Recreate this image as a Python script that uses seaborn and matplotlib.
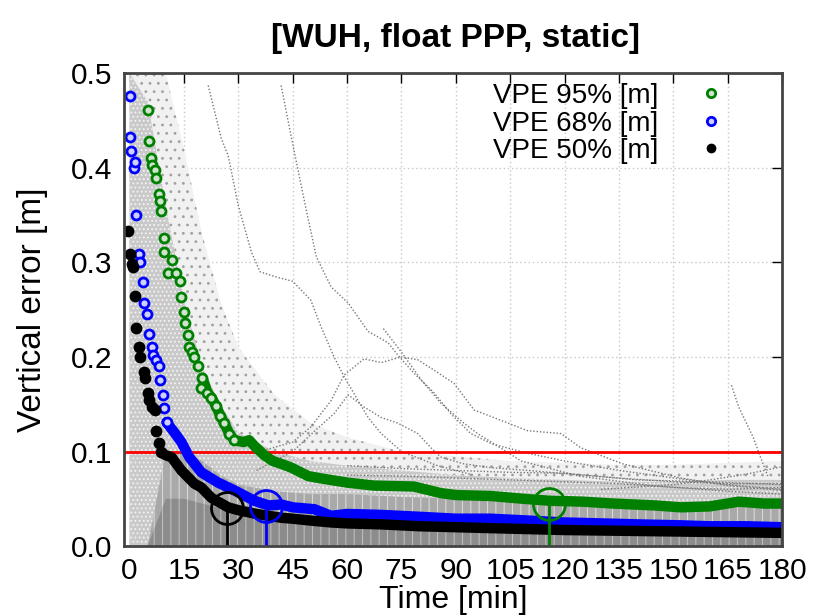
import matplotlib
matplotlib.use("Agg")
import matplotlib.pyplot as plt
from matplotlib.lines import Line2D
import seaborn as sns
import pandas as pd

# --- VPE percentile curves (time in minutes, error in metres) ---
vpe95_t = [5.0, 5.5, 5.8, 6.3, 6.9, 7.2, 8.0, 8.3, 8.8, 9.4, 9.6, 10.7, 11.8, 12.9, 13.8,
           14.3, 14.9, 15.4, 16.0, 16.5, 17.3, 17.9, 19.0, 19.8, 20.1, 21.5, 22.6, 23.9,
           25.0, 26.1, 27.5, 28.9, 31.4, 33.0, 34.4, 37.2, 39.5, 41.8, 44.6, 49.3, 53.7,
           60.3, 67.4, 78.4, 85.9, 90.0, 99.6, 108.7, 115.8, 125.0, 133.5, 145.0, 152.0,
           160.0, 168.0, 175.0, 180.0]
vpe95_v = [0.461, 0.428, 0.410, 0.403, 0.398, 0.389, 0.372, 0.365, 0.354, 0.326, 0.311,
           0.289, 0.302, 0.289, 0.280, 0.263, 0.247, 0.236, 0.223, 0.210, 0.205, 0.200,
           0.190, 0.167, 0.178, 0.162, 0.157, 0.148, 0.138, 0.130, 0.119, 0.112, 0.110,
           0.112, 0.106, 0.096, 0.090, 0.087, 0.083, 0.074, 0.071, 0.067, 0.064, 0.063,
           0.056, 0.054, 0.053, 0.050, 0.048, 0.047, 0.045, 0.043, 0.041, 0.042, 0.047,
           0.045, 0.045]

vpe68_t = [0.0, 0.2, 0.3, 1.1, 1.4, 1.9, 2.5, 3.0, 3.6, 3.9, 4.7, 5.5, 6.1, 6.6, 7.2, 8.0,
           8.5, 9.1, 9.4, 10.2, 12.4, 14.3, 16.5, 19.8, 24.5, 28.9, 34.4, 38.3, 41.8,
           45.0, 51.0, 55.6, 60.0, 69.4, 80.0, 90.0, 99.6, 110.0, 120.0, 130.0, 140.0,
           152.0, 160.0, 170.0, 180.0]
vpe68_v = [0.476, 0.433, 0.418, 0.400, 0.406, 0.350, 0.309, 0.300, 0.279, 0.257, 0.245,
           0.224, 0.210, 0.202, 0.197, 0.190, 0.176, 0.160, 0.146, 0.131, 0.120, 0.110,
           0.094, 0.078, 0.067, 0.059, 0.048, 0.043, 0.044, 0.041, 0.039, 0.032, 0.034,
           0.033, 0.031, 0.029, 0.029, 0.027, 0.025, 0.024, 0.023, 0.022, 0.021, 0.021,
           0.020]

vpe50_t = [-0.3, 0.0, 0.7, 1.0, 1.4, 1.9, 2.5, 3.0, 4.1, 4.4, 5.0, 5.5, 6.1, 6.9, 7.4, 8.0,
           8.8, 10.0, 11.6, 14.3, 17.9, 19.8, 22.6, 27.2, 30.0, 35.0, 41.8, 45.0, 50.0,
           55.6, 60.0, 69.4, 80.0, 90.0, 99.6, 110.0, 120.0, 140.0, 160.0, 180.0]
vpe50_v = [0.333, 0.309, 0.298, 0.295, 0.264, 0.231, 0.211, 0.200, 0.184, 0.178, 0.162,
           0.154, 0.147, 0.144, 0.122, 0.109, 0.099, 0.096, 0.094, 0.080, 0.066, 0.062,
           0.051, 0.041, 0.038, 0.034, 0.030, 0.029, 0.027, 0.025, 0.024, 0.023, 0.021,
           0.020, 0.019, 0.018, 0.017, 0.016, 0.015, 0.014]

# convergence points (time where each percentile stays below the threshold)
conv_t = [27.0, 37.5, 115.8]
conv_v = [0.040, 0.042, 0.045]
conv_colors = ["black", "blue", "green"]
threshold = 0.1

# --- background error cloud: envelopes of the scatter ---
cloud_t = [0, 5, 10, 15, 20, 25, 30, 40, 50, 60, 75, 90, 105, 120, 135, 150, 165, 180]
cloud_sparse = [0.5, 0.5, 0.5, 0.42, 0.33, 0.26, 0.21, 0.16, 0.13, 0.115, 0.10, 0.095,
                0.09, 0.088, 0.086, 0.086, 0.088, 0.09]
cloud_mid = [0.5, 0.47, 0.36, 0.26, 0.19, 0.15, 0.12, 0.10, 0.09, 0.085, 0.08, 0.075, 0.072,
             0.07, 0.068, 0.068, 0.07, 0.07]
cloud_dense = [0.0, 0.0, 0.1, 0.1, 0.09, 0.075, 0.065, 0.058, 0.055, 0.055, 0.052, 0.05,
               0.048, 0.046, 0.045, 0.044, 0.044, 0.044]
cloud_core = [0.0, 0.0, 0.05, 0.05, 0.045, 0.04, 0.035, 0.032, 0.03, 0.028, 0.027, 0.026,
              0.025, 0.025, 0.024, 0.024, 0.024, 0.024]

# individual station tracks visible above the cloud
track_a_t = [41.8, 45.0, 48.7, 51.5, 55.6, 60.3, 65.8, 71.3, 74.0, 78.4, 84.0, 88.6, 94.1,
             100.0, 110.0, 120.0, 135.0, 150.0, 165.0, 180.0]
track_a_v = [0.487, 0.425, 0.356, 0.306, 0.274, 0.257, 0.227, 0.215, 0.202, 0.183, 0.162,
             0.140, 0.119, 0.108, 0.098, 0.090, 0.080, 0.072, 0.065, 0.060]
track_b_t = [21.7, 25.3, 27.2, 30.0, 33.6, 36.0, 40.0, 45.0, 50.0, 52.8, 56.4, 59.2, 63.0,
             65.8, 69.4, 75.0, 85.0, 95.0]
track_b_v = [0.487, 0.431, 0.413, 0.360, 0.311, 0.290, 0.285, 0.280, 0.260, 0.232, 0.200,
             0.179, 0.154, 0.136, 0.119, 0.100, 0.085, 0.075]
track_c_t = [36.0, 45.0, 50.0, 55.6, 59.2, 64.7, 69.4, 74.9, 79.5, 84.0, 89.5, 95.0, 102.4,
             109.8, 119.0, 124.4, 136.0, 152.0, 165.0, 180.0]
track_c_v = [0.100, 0.110, 0.126, 0.154, 0.181, 0.198, 0.194, 0.200, 0.197, 0.186, 0.172,
             0.144, 0.133, 0.122, 0.119, 0.104, 0.087, 0.072, 0.064, 0.059]
track_e_t = [35.0, 45.0, 52.0, 56.4, 60.3, 64.7, 69.4, 74.0, 79.5, 83.1, 85.9, 92.2, 99.6,
             110.0, 125.0, 140.0, 160.0, 180.0]
track_e_v = [0.080, 0.100, 0.125, 0.140, 0.160, 0.147, 0.136, 0.130, 0.119, 0.104, 0.094,
             0.087, 0.083, 0.080, 0.075, 0.070, 0.068, 0.065]
track_f_t = [70.0, 75.0, 80.4, 85.9, 92.2, 96.0, 108.0, 124.0, 144.0, 165.0, 180.0]
track_f_v = [0.230, 0.205, 0.176, 0.151, 0.130, 0.119, 0.090, 0.074, 0.064, 0.058, 0.055]
track_g_t = [130.0, 150.0, 160.0, 170.0, 180.0]
track_g_v = [0.060, 0.065, 0.070, 0.076, 0.084]
track_h_t = [166.0, 168.0, 170.0, 172.0, 174.0, 176.0]
track_h_v = [0.170, 0.147, 0.131, 0.115, 0.094, 0.074]
track_i_t = [60.0, 75.0, 90.0, 105.0, 120.0, 135.0, 150.0, 165.0, 180.0]
track_i_v = [0.085, 0.082, 0.080, 0.078, 0.077, 0.072, 0.068, 0.066, 0.066]
track_j_t = [60.0, 75.0, 90.0, 105.0, 120.0, 135.0, 150.0, 165.0, 180.0]
track_j_v = [0.075, 0.074, 0.072, 0.070, 0.068, 0.066, 0.062, 0.060, 0.062]

tracks = [(track_a_t, track_a_v), (track_b_t, track_b_v), (track_c_t, track_c_v),
          (track_e_t, track_e_v), (track_f_t, track_f_v), (track_g_t, track_g_v),
          (track_h_t, track_h_v), (track_i_t, track_i_v), (track_j_t, track_j_v)]

sns.set_style("white")
plt.rcParams["font.family"] = ["Liberation Sans", "DejaVu Sans"]
plt.rcParams["text.color"] = "black"
plt.rcParams["axes.labelcolor"] = "black"
plt.rcParams["hatch.linewidth"] = 0.8

fig = plt.figure(figsize=(8.14, 6.15), dpi=100)
ax = fig.add_axes([0.152, 0.112, 0.809, 0.769])

# gray cloud of all samples
ax.fill_between(cloud_t, 0, cloud_sparse, facecolor="#f1f1f1", edgecolor="#a0a0a0",
                hatch="..", linewidth=0, zorder=1)
ax.fill_between(cloud_t, 0, cloud_mid, facecolor="#c9c9c9", edgecolor="#f4f4f4",
                hatch="....", linewidth=0, zorder=1)
ax.fill_between(cloud_t, 0, cloud_dense, facecolor="#a9a9a9", edgecolor="#d8d8d8",
                hatch="||", linewidth=0, zorder=1)
ax.fill_between(cloud_t, 0, cloud_core, facecolor="#8c8c8c", edgecolor="#bcbcbc",
                hatch="||", linewidth=0, zorder=1)

for tt, vv in tracks:
    sns.lineplot(x=tt, y=vv, ax=ax, color="#777777", linewidth=1.0,
                 linestyle=(0, (1, 1.4)), zorder=2)

ax.axhline(threshold, color="red", linewidth=2, zorder=3)

# (t, v, edge colour, face colour, thick line from, markers until)
series = [
    (vpe95_t, vpe95_v, "green", "#cfe3cf", 20.0, 30.0),
    (vpe68_t, vpe68_v, "blue", "#d0d0ff", 10.0, 11.0),
    (vpe50_t, vpe50_v, "black", "black", 8.5, 9.0),
]
for tt, vv, col, face, t_line, t_mark in series:
    df = pd.DataFrame({"t": tt, "v": vv})
    dense = df[df["t"] >= t_line]
    early = df[df["t"] <= t_mark]
    sns.lineplot(data=dense, x="t", y="v", ax=ax, color=col, linewidth=7.5,
                 solid_capstyle="round", zorder=4)
    sns.scatterplot(data=early, x="t", y="v", ax=ax, marker="o", s=42, color=face,
                    edgecolor=col, linewidth=2.0, zorder=5)

# convergence markers
for ct, cv, col in zip(conv_t, conv_v, conv_colors):
    ax.vlines(ct, 0, cv, color=col, linewidth=2, zorder=6)
    ax.plot([ct], [cv], marker="o", markersize=23, markerfacecolor="none",
            markeredgecolor=col, markeredgewidth=2, zorder=6)

ax.set_xlim(-1.6, 180)
ax.set_ylim(0, 0.5)
ax.set_xticks(range(0, 181, 15))
ax.set_yticks([0.0, 0.1, 0.2, 0.3, 0.4, 0.5])
ax.set_yticklabels(["0.0", "0.1", "0.2", "0.3", "0.4", "0.5"])
ax.grid(True, color="#c8c8c8", linestyle=(0, (1, 2)), linewidth=1)
ax.set_axisbelow(True)
ax.tick_params(direction="in", length=7, width=1, top=True, right=True,
               labelsize=21.5, pad=8, colors="black")
for sp in ax.spines.values():
    sp.set_color("#444444")
    sp.set_linewidth(2)
    sp.set_zorder(10)

ax.set_xlabel("Time [min]", fontsize=23, labelpad=0)
ax.set_ylabel("Vertical error [m]", fontsize=24, labelpad=17)
fig.text(0.559, 0.937, "[WUH, float PPP, static]", ha="center", va="center",
         fontsize=24, fontweight="bold",
         family=["Liberation Sans Narrow", "Liberation Sans", "DejaVu Sans"])

handles = [
    Line2D([], [], linestyle="none", marker="o", markersize=6, markerfacecolor="#cfe3cf",
           markeredgecolor="green", markeredgewidth=2, label="VPE 95% [m]"),
    Line2D([], [], linestyle="none", marker="o", markersize=6, markerfacecolor="#d0d0ff",
           markeredgecolor="blue", markeredgewidth=2, label="VPE 68% [m]"),
    Line2D([], [], linestyle="none", marker="o", markersize=6, markerfacecolor="black",
           markeredgecolor="black", markeredgewidth=1, label="VPE 50% [m]"),
]
leg = ax.legend(handles=handles, loc="upper right", bbox_to_anchor=(0.943, 1.02),
                frameon=False, markerfirst=False, fontsize=20, handlelength=1.0,
                handletextpad=1.4, labelspacing=0.05, borderpad=0.2)
leg.set_zorder(12)

fig.savefig("out.png", dpi=100)
